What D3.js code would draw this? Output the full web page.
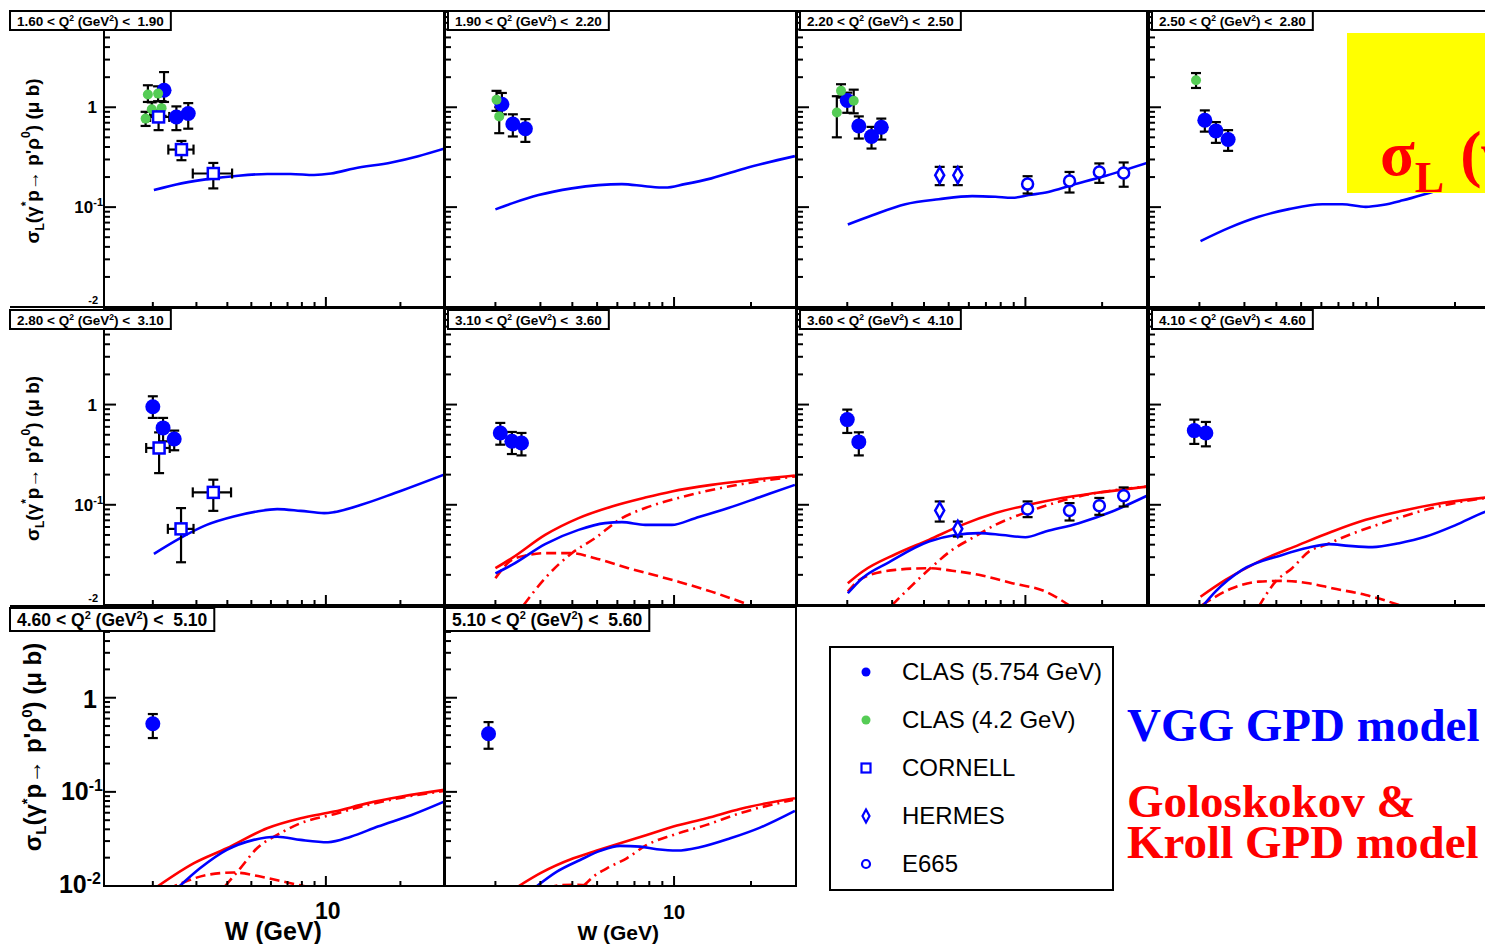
<!DOCTYPE html>
<html>
<head>
<meta charset="utf-8">
<script src="https://cdn.jsdelivr.net/npm/d3@7"></script>
<style>
html, body { margin: 0; padding: 0; overflow: hidden; background: #fff; }
svg { display: block; }
text { white-space: pre; }
</style>
</head>
<body>
<svg id="chart" width="1485" height="944"></svg>
<script>
// Q^2 bins, one panel each
const qBins = [["1.60","1.90"],["1.90","2.20"],["2.20","2.50"],["2.50","2.80"],
	["2.80","3.10"],["3.10","3.60"],["3.60","4.10"],["4.10","4.60"],
	["4.60","5.10"],["5.10","5.60"]];

// data points: [W, sigma_L, low, high]
const clas57 = [
	[[2.22,1.48,1.13,2.25],[2.49,0.80,0.59,1.02],[2.78,0.865,0.61,1.10]],
	[[2.12,1.07,0.85,1.39],[2.34,0.68,0.51,0.85],[2.62,0.61,0.45,0.76]],
	[[2.0,1.17,0.88,1.40],[2.22,0.65,0.486,0.81],[2.49,0.51,0.386,0.636],[2.72,0.63,0.475,0.77]],
	[[2.10,0.74,0.57,0.93],[2.32,0.58,0.44,0.71],[2.59,0.475,0.366,0.59]],
	[[2.0,0.95,0.736,1.21],[2.20,0.585,0.43,0.736],[2.44,0.454,0.35,0.55]],
	[[2.09,0.521,0.398,0.656],[2.32,0.43,0.321,0.533],[2.53,0.414,0.311,0.521]],
	[[2.0,0.708,0.521,0.891],[2.22,0.424,0.311,0.529]],
	[[1.91,0.55,0.405,0.708],[2.12,0.521,0.383,0.671]],
	[[2.0,0.529,0.373,0.671]],
	[[1.88,0.414,0.287,0.551]]
];
const clas42 = [
	[[1.87,0.77,0.65,0.90],[1.91,1.34,1.13,1.66],[1.98,0.955,0.80,1.12],[2.10,1.37,1.15,1.62],[2.17,0.98,0.82,1.15]],
	[[2.02,1.19,0.92,1.46],[2.07,0.81,0.55,1.0]],
	[[1.82,0.885,0.50,1.29],[1.89,1.46,1.25,1.70],[2.12,1.16,0.87,1.50]],
	[[1.94,1.86,1.56,2.20]],
	[],[],[],[],[],[]
];
// [W, sigma_L, low, high, W low, W high]
const cornell = [
	[[2.11,0.80,0.59,0.93,1.95,2.33],[2.61,0.377,0.295,0.46,2.31,2.92],[3.51,0.217,0.154,0.277,2.90,4.18]],
	[],[],[],
	[[2.12,0.369,0.207,0.528,1.88,2.34],[2.60,0.0575,0.0267,0.0927,2.30,2.92],[3.51,0.133,0.087,0.178,2.90,4.14]],
	[],[],[],[],[]
];
const hermes = [
	[],[],
	[[4.61,0.209,0.166,0.253],[5.43,0.209,0.166,0.253]],
	[],[],[],
	[[4.61,0.0877,0.068,0.108],[5.43,0.0575,0.0482,0.068]],
	[],[],[]
];
const e665 = [
	[],[],
	[[10.2,0.17,0.137,0.204],[14.9,0.183,0.14,0.225],[19.5,0.225,0.175,0.274],[24.3,0.22,0.16,0.28]],
	[],[],[],
	[[10.2,0.0906,0.0753,0.108],[14.9,0.0877,0.0697,0.104],[19.5,0.0977,0.0794,0.117],[24.3,0.123,0.0962,0.149]],
	[],[],[]
];

// model curves: [W, sigma_L]
const vgg = [
	[[2.02,0.148],[2.61,0.173],[3.51,0.194],[4.24,0.204],[5.80,0.215],[7.21,0.215],[8.96,0.21],[10.5,0.217],[13.0,0.244],[18.4,0.28],[23.6,0.324],[30,0.385]],
	[[2.0,0.095],[2.32,0.109],[2.95,0.132],[3.98,0.154],[5.06,0.166],[6.25,0.17],[7.71,0.162],[9.22,0.157],[11.0,0.17],[14.0,0.194],[18.9,0.244],[29.7,0.324]],
	[[2.01,0.067],[2.51,0.083],[3.38,0.107],[4.57,0.12],[6.18,0.129],[7.63,0.127],[8.87,0.124],[10.3,0.132],[12.3,0.142],[15.2,0.166],[20.0,0.201],[30,0.277]],
	[[2.02,0.0457],[2.61,0.062],[3.41,0.08],[4.48,0.0955],[6.05,0.107],[7.24,0.107],[8.95,0.1007],[10.4,0.105],[12.5,0.117],[16.3,0.142],[20,0.165],[30,0.24]],
	[[2.02,0.0324],[2.58,0.0465],[3.30,0.063],[4.24,0.0764],[5.27,0.0857],[6.36,0.0906],[7.91,0.087],[9.84,0.0826],[10.8,0.0845],[13.9,0.1],[19.0,0.131],[30,0.2]],
	[[2.0,0.0207],[2.32,0.0251],[3.13,0.0405],[4.23,0.0562],[5.37,0.0656],[6.25,0.0671],[7.71,0.063],[9.8,0.063],[12.1,0.0736],[16.3,0.0927],[22.0,0.121],[29.7,0.158]],
	[[2.01,0.0131],[2.29,0.0185],[2.91,0.0267],[4.18,0.043],[5.31,0.05],[6.56,0.0521],[8.1,0.05],[10,0.0475],[12.0,0.0541],[16.2,0.0656],[21.9,0.0857],[30,0.123]],
	[[2.05,0.0096],[2.31,0.0136],[2.94,0.0224],[4.22,0.0316],[5.36,0.0374],[6.43,0.0405],[7.69,0.0389],[9.5,0.0378],[12.1,0.0414],[15.4,0.0482],[20.2,0.063],[26.4,0.0857],[30,0.095]],
	[[2.57,0.01],[3.10,0.0154],[3.98,0.0242],[5.11,0.0309],[6.36,0.0334],[7.91,0.0309],[10.2,0.0292],[12.6,0.0334],[16.2,0.0428],[22.2,0.0569],[30,0.0788]],
	[[2.91,0.01],[3.48,0.0142],[4.29,0.0189],[5.14,0.0236],[6.15,0.0267],[7.36,0.0262],[8.56,0.0246],[10.3,0.0238],[12.6,0.0258],[16.6,0.0321],[21.7,0.0417],[29.7,0.0628]]
];
const gkTotal = [
	[],[],[],[],[],
	[[2.0,0.0233],[2.32,0.0293],[3.13,0.05],[4.23,0.0736],[5.71,0.0962],[7.71,0.118],[9.8,0.136],[14.0,0.158],[18.9,0.174],[29.7,0.196]],
	[[2.01,0.0165],[2.29,0.0215],[3.09,0.0321],[4.18,0.0447],[5.65,0.063],[7.63,0.0826],[10.3,0.1],[13.9,0.117],[18.8,0.131],[30,0.152]],
	[[2.02,0.0121],[2.53,0.0178],[3.41,0.0271],[4.9,0.0398],[6.62,0.0541],[8.95,0.0708],[12.1,0.0857],[16.3,0.1],[26.4,0.118],[30,0.122]],
	[[2.10,0.01],[2.92,0.0174],[3.98,0.0252],[5.79,0.0411],[7.91,0.0525],[10.8,0.0617],[14.8,0.0759],[20.2,0.0891],[30,0.105]],
	[[2.47,0.01],[3.0,0.0137],[4.04,0.0197],[4.99,0.0238],[6.15,0.0285],[7.82,0.0349],[9.94,0.0428],[13.4,0.0525],[18.1,0.0659],[29.7,0.0857]]
];
const gkDashed = [
	[],[],[],[],[],
	[[2.0,0.0185],[2.32,0.0282],[2.70,0.0316],[3.13,0.0329],[3.98,0.0329],[4.91,0.0293],[6.63,0.0233],[10.4,0.0171],[14.0,0.0136],[18.9,0.0104]],
	[[2.01,0.0136],[2.29,0.0185],[3.09,0.0224],[4.18,0.0233],[5.16,0.022],[6.56,0.02],[8.87,0.0165],[12.0,0.0136],[14.8,0.01]],
	[[2.05,0.01],[2.69,0.0147],[3.41,0.0171],[4.22,0.0174],[5.36,0.0165],[6.62,0.0147],[8.95,0.0126],[12.1,0.01]],
	[[2.3,0.0093],[2.61,0.0107],[3.30,0.0131],[4.24,0.0139],[5.44,0.0126],[6.98,0.0109],[8.43,0.0098]],
	[[3.2,0.0096],[3.6,0.0102],[4.2,0.0103],[4.9,0.0099]]
];
const gkDashDot = [
	[],[],[],[],[],
	[[2.58,0.01],[3.13,0.0185],[3.98,0.0329],[4.91,0.0465],[6.25,0.0736],[7.71,0.0927],[10.4,0.117],[16.3,0.152],[29.7,0.192]],
	[[3.0,0.01],[3.6,0.0158],[4.31,0.0242],[5.16,0.0355],[6.18,0.0465],[7.63,0.063],[10.3,0.0857],[16.2,0.121],[30,0.152]],
	[[3.41,0.0096],[3.97,0.0171],[4.61,0.0233],[5.36,0.0341],[6.23,0.0398],[7.69,0.05],[10.4,0.0656],[16.3,0.0927],[26.4,0.117],[30,0.121]],
	[[3.92,0.01],[4.51,0.0154],[5.27,0.0252],[6.36,0.0349],[7.91,0.0465],[10.8,0.058],[14.8,0.0727],[20.2,0.0869],[30,0.102]],
	[[4.42,0.01],[4.84,0.0126],[5.46,0.0154],[6.53,0.0197],[7.82,0.0273],[9.94,0.0349],[13.4,0.0446],[18.1,0.0593],[29.2,0.0822]]
];

const legendItems = ["CLAS (5.754 GeV)", "CLAS (4.2 GeV)", "CORNELL", "HERMES", "E665"];
const yMajor = [0.01, 0.1, 1];
const yMinor = [2,3,4,5,6,7,8,9].flatMap(k => [k * 0.01, k * 0.1, k]);
const xMajor = [10];
const xMinor = [2,3,4,5,6,7,8,9,20,30];

const BLUE = "#0000ff", RED = "#ff0000", GREEN = "#55cc55";
const SANS = "'Liberation Sans', Arial, Helvetica, sans-serif";
const SERIF = "'Liberation Serif', 'Times New Roman', serif";

const svg = d3.select("#chart");
const colRange = [[104,444],[445,796],[797,1147],[1149,1500]];
const rowRange = [[307,11],[605,308],[886,607]];

// pad borders
[11, 307, 606].forEach(yy => {
	svg.append("line").attr("x1", 10).attr("x2", 1485).attr("y1", yy).attr("y2", yy)
		.attr("stroke", "#000").attr("stroke-width", 2);
});

qBins.forEach((q, i) => {
	const col = i < 8 ? i % 4 : i - 8;
	const row = Math.floor(i / 4);
	const x = d3.scaleLog().domain([1.27, 30]).range(colRange[col]);
	const y = d3.scaleLog().domain([0.01, 9.2]).range(rowRange[row]);
	const [x0, x1] = colRange[col];
	const [yb, yt] = rowRange[row];
	const g = svg.append("g");

	const clipId = "clip" + i;
	svg.append("clipPath").attr("id", clipId).append("rect")
		.attr("x", x0).attr("y", yt).attr("width", x1 - x0).attr("height", yb - yt);

	const curves = g.append("g").attr("clip-path", `url(#${clipId})`);
	const line = d3.line().x(d => x(d[0])).y(d => y(d[1])).curve(d3.curveMonotoneX);
	const drawCurve = (data, color, dash) => {
		if (!data.length) return;
		curves.append("path").datum(data).attr("d", line)
			.attr("fill", "none").attr("stroke", color).attr("stroke-width", 2.6)
			.attr("stroke-dasharray", dash);
	};
	drawCurve(gkDashed[i], RED, "10,5");
	drawCurve(gkDashDot[i], RED, "10,5,2,5");
	drawCurve(gkTotal[i], RED, null);
	drawCurve(vgg[i], BLUE, null);

	// error bars
	const errs = g.append("g").attr("clip-path", `url(#${clipId})`)
		.attr("stroke", "#000").attr("stroke-width", 2.2);
	const vErr = d => {
		const cx = x(d[0]);
		errs.append("line").attr("x1", cx).attr("x2", cx).attr("y1", y(d[2])).attr("y2", y(d[3]));
		[d[2], d[3]].forEach(v => errs.append("line").attr("x1", cx - 5).attr("x2", cx + 5).attr("y1", y(v)).attr("y2", y(v)));
	};
	const hErr = d => {
		const cy = y(d[1]);
		errs.append("line").attr("x1", x(d[4])).attr("x2", x(d[5])).attr("y1", cy).attr("y2", cy);
		[d[4], d[5]].forEach(w => errs.append("line").attr("x1", x(w)).attr("x2", x(w)).attr("y1", cy - 5).attr("y2", cy + 5));
	};
	clas57[i].forEach(vErr);
	clas42[i].forEach(vErr);
	cornell[i].forEach(d => { vErr(d); hErr(d); });
	hermes[i].forEach(vErr);
	e665[i].forEach(vErr);

	// markers
	const mk = g.append("g").attr("clip-path", `url(#${clipId})`);
	mk.selectAll(".c57").data(clas57[i]).enter().append("circle")
		.attr("cx", d => x(d[0])).attr("cy", d => y(d[1])).attr("r", 7.5).attr("fill", BLUE);
	mk.selectAll(".c42").data(clas42[i]).enter().append("circle")
		.attr("cx", d => x(d[0])).attr("cy", d => y(d[1])).attr("r", 5).attr("fill", GREEN);
	mk.selectAll(".cor").data(cornell[i]).enter().append("rect")
		.attr("x", d => x(d[0]) - 5.5).attr("y", d => y(d[1]) - 5.5).attr("width", 11).attr("height", 11)
		.attr("fill", "#fff").attr("stroke", BLUE).attr("stroke-width", 2.5);
	mk.selectAll(".her").data(hermes[i]).enter().append("path")
		.attr("d", d => { const cx = x(d[0]), cy = y(d[1]); return `M${cx},${cy-8}L${cx+4.5},${cy}L${cx},${cy+8}L${cx-4.5},${cy}Z`; })
		.attr("fill", "#fff").attr("stroke", BLUE).attr("stroke-width", 2.5);
	mk.selectAll(".e665").data(e665[i]).enter().append("circle")
		.attr("cx", d => x(d[0])).attr("cy", d => y(d[1])).attr("r", 5.5)
		.attr("fill", "#fff").attr("stroke", BLUE).attr("stroke-width", 2.5);

	// ticks
	const ticks = g.append("g").attr("stroke", "#000").attr("stroke-width", 2);
	yMajor.forEach(v => ticks.append("line").attr("x1", x0).attr("x2", x0 + 12).attr("y1", y(v)).attr("y2", y(v)));
	yMinor.filter(v => v < 9.2).forEach(v => ticks.append("line").attr("x1", x0).attr("x2", x0 + 6).attr("y1", y(v)).attr("y2", y(v)));
	xMajor.forEach(w => ticks.append("line").attr("x1", x(w)).attr("x2", x(w)).attr("y1", yb).attr("y2", yb - 10));
	xMinor.forEach(w => ticks.append("line").attr("x1", x(w)).attr("x2", x(w)).attr("y1", yb).attr("y2", yb - 5));

	// frame
	g.append("rect").attr("x", x0).attr("y", yt).attr("width", x1 - x0).attr("height", yb - yt)
		.attr("fill", "none").attr("stroke", "#000").attr("stroke-width", 2);

	// Q^2 label box
	const big = row === 2;
	const fs = big ? 17.5 : 13.5, sfs = big ? 11 : 8.5, sdy = big ? 7 : 5;
	const bx = col === 0 ? 10 : x0 + (big ? 0 : 3);
	const by = big ? 608 : yt + (row === 0 ? 0 : 2);
	const bh = big ? 23 : 19;
	const box = g.append("rect").attr("x", bx).attr("y", by).attr("height", bh)
		.attr("fill", "#fff").attr("stroke", "#000").attr("stroke-width", 2);
	const lt = g.append("text").attr("x", bx + 7).attr("y", by + (big ? 18 : 14.5))
		.attr("font-family", SANS).attr("font-weight", "bold").attr("font-size", fs);
	lt.append("tspan").text(q[0] + " < Q");
	lt.append("tspan").attr("font-size", sfs).attr("dy", -sdy).text("2");
	lt.append("tspan").attr("dy", sdy).text(" (GeV");
	lt.append("tspan").attr("font-size", sfs).attr("dy", -sdy).text("2");
	lt.append("tspan").attr("dy", sdy).text(") <  " + q[1]);
	box.attr("width", lt.node().getComputedTextLength() + 14);

	// axis labels for first column
	if (col === 0) {
		const lab = g.append("g").attr("font-family", SANS).attr("font-weight", "bold").attr("fill", "#000");
		const f1 = big ? 25 : 17, f2 = big ? 16 : 11;
		lab.append("text").attr("x", 97).attr("y", y(1) + (big ? 10 : 6)).attr("text-anchor", "end")
			.attr("font-size", f1).text("1");
		const t1 = lab.append("text").attr("x", 103).attr("y", y(0.1) + (big ? 8 : 6)).attr("text-anchor", "end").attr("font-size", f1);
		t1.append("tspan").text("10");
		t1.append("tspan").attr("font-size", f2).attr("dy", big ? -9 : -7).text("-1");
		if (big) {
			const t2 = lab.append("text").attr("x", 101).attr("y", y(0.01) + 7).attr("text-anchor", "end").attr("font-size", f1);
			t2.append("tspan").text("10");
			t2.append("tspan").attr("font-size", f2).attr("dy", -9).text("-2");
		} else {
			lab.append("text").attr("x", 98).attr("y", yb - 3).attr("text-anchor", "end").attr("font-size", f2).text("-2");
		}
		// y title
		const tf = big ? 24 : 19, tsf = big ? 15 : 12;
		const cy = big ? 747 : (yb + yt) / 2 + 2;
		const tt = g.append("text").attr("transform", `translate(${big ? 41 : 39},${cy}) rotate(-90)`)
			.attr("text-anchor", "middle").attr("font-family", SANS).attr("font-weight", "bold").attr("font-size", tf);
		tt.append("tspan").text("σ");
		tt.append("tspan").attr("font-size", tsf).attr("dy", 5).text("L");
		tt.append("tspan").attr("dy", -5).text("(γ");
		tt.append("tspan").attr("font-size", tsf).attr("dy", -9).text("*");
		tt.append("tspan").attr("dy", 9).text("p");
		tt.append("tspan").text("→ ");
		tt.append("tspan").text("p");
		tt.append("tspan").text("'ρ");
		tt.append("tspan").attr("font-size", tsf).attr("dy", -9).text("0");
		tt.append("tspan").attr("dy", 9).text(") (μ b)");
	}

	// x axis labels on bottom row
	if (big) {
		const fx = col === 0 ? 25 : 21;
		g.append("text").attr("x", x(10) + (col === 0 ? 2 : 0)).attr("y", 919).attr("text-anchor", "middle")
			.attr("font-family", SANS).attr("font-weight", "bold").attr("font-size", col === 0 ? 23 : 20).text("10");
		g.append("text").attr("x", x(10) - (col === 0 ? 4 : 15)).attr("y", 940).attr("text-anchor", "end")
			.attr("font-family", SANS).attr("font-weight", "bold").attr("font-size", fx).text("W (GeV)");
	}
});

// yellow title box (cut off at the right edge, as in the source slide)
svg.append("rect").attr("x", 1347).attr("y", 33).attr("width", 160).attr("height", 160).attr("fill", "#ffff00");
const st = svg.append("text").attr("x", 1380).attr("y", 175)
	.attr("font-family", SERIF).attr("font-weight", "bold").attr("font-size", 64).attr("fill", RED);
st.append("tspan").text("σ");
st.append("tspan").attr("font-size", 44).attr("dy", 17).text("L");
st.append("tspan").attr("dy", -17).text(" (γ");

// legend
const lg = svg.append("g");
lg.append("rect").attr("x", 830).attr("y", 647).attr("width", 283).attr("height", 243)
	.attr("fill", "#fff").attr("stroke", "#000").attr("stroke-width", 2);
legendItems.forEach((name, k) => {
	const ly = 672 + k * 48, lx = 866;
	if (k === 0) lg.append("circle").attr("cx", lx).attr("cy", ly).attr("r", 4.5).attr("fill", BLUE);
	if (k === 1) lg.append("circle").attr("cx", lx).attr("cy", ly).attr("r", 4.5).attr("fill", GREEN);
	if (k === 2) lg.append("rect").attr("x", lx - 4.5).attr("y", ly - 4.5).attr("width", 9).attr("height", 9)
		.attr("fill", "none").attr("stroke", BLUE).attr("stroke-width", 2.2);
	if (k === 3) lg.append("path").attr("d", `M${lx},${ly-6.5}L${lx+3.5},${ly}L${lx},${ly+6.5}L${lx-3.5},${ly}Z`)
		.attr("fill", "none").attr("stroke", BLUE).attr("stroke-width", 2.2);
	if (k === 4) lg.append("circle").attr("cx", lx).attr("cy", ly).attr("r", 4)
		.attr("fill", "none").attr("stroke", BLUE).attr("stroke-width", 2.2);
	lg.append("text").attr("x", 902).attr("y", ly + 8).attr("font-family", SANS)
		.attr("font-size", 24).attr("fill", "#000").text(name);
});

// model names
const mt = svg.append("g").attr("font-family", SERIF).attr("font-weight", "bold").attr("font-size", 47);
mt.append("text").attr("x", 1127).attr("y", 741).attr("fill", BLUE).text("VGG GPD model");
mt.append("text").attr("x", 1127).attr("y", 817).attr("fill", RED).text("Goloskokov &");
mt.append("text").attr("x", 1127).attr("y", 858).attr("fill", RED).text("Kroll GPD model");
</script>
</body>
</html>
